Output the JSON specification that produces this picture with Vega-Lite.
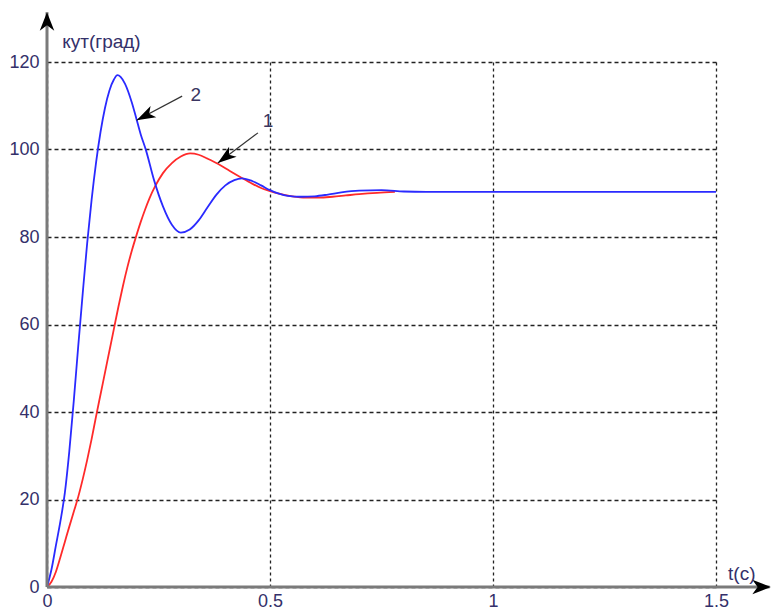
{
  "$schema": "https://vega.github.io/schema/vega-lite/v6.json",
  "width": 669,
  "height": 525,
  "autosize": "none",
  "padding": {"left": 47, "top": 62, "right": 57, "bottom": 26},
  "background": "white",
  "config": {"view": {"stroke": null}, "font": "Liberation Sans"},
  "data": {"values": [{}]},
  "datasets": {
    "curves": [
      {"t":0,"v":0,"curve":"1"},{"t":0.01,"v":1.2,"curve":"1"},{"t":0.02,"v":3.5,"curve":"1"},{"t":0.03,"v":6.8,"curve":"1"},{"t":0.04,"v":10.3,"curve":"1"},{"t":0.05,"v":13.8,"curve":"1"},{"t":0.06,"v":17.2,"curve":"1"},{"t":0.07,"v":20.6,"curve":"1"},{"t":0.08,"v":24.6,"curve":"1"},{"t":0.09,"v":29,"curve":"1"},{"t":0.10,"v":33.8,"curve":"1"},{"t":0.11,"v":39,"curve":"1"},{"t":0.12,"v":44,"curve":"1"},{"t":0.13,"v":49,"curve":"1"},{"t":0.14,"v":54,"curve":"1"},{"t":0.15,"v":59,"curve":"1"},{"t":0.16,"v":64,"curve":"1"},{"t":0.17,"v":68.7,"curve":"1"},{"t":0.18,"v":73,"curve":"1"},{"t":0.19,"v":76.8,"curve":"1"},{"t":0.20,"v":80.2,"curve":"1"},{"t":0.21,"v":83.4,"curve":"1"},{"t":0.22,"v":86.3,"curve":"1"},{"t":0.23,"v":88.9,"curve":"1"},{"t":0.242,"v":91.5,"curve":"1"},{"t":0.26,"v":94.6,"curve":"1"},{"t":0.28,"v":96.9,"curve":"1"},{"t":0.30,"v":98.4,"curve":"1"},{"t":0.321,"v":99.1,"curve":"1"},{"t":0.34,"v":98.8,"curve":"1"},{"t":0.36,"v":97.9,"curve":"1"},{"t":0.384,"v":96.7,"curve":"1"},{"t":0.41,"v":95.1,"curve":"1"},{"t":0.437,"v":93.5,"curve":"1"},{"t":0.46,"v":92.2,"curve":"1"},{"t":0.48,"v":91.2,"curve":"1"},{"t":0.50,"v":90.5,"curve":"1"},{"t":0.52,"v":89.9,"curve":"1"},{"t":0.55,"v":89.3,"curve":"1"},{"t":0.58,"v":89.0,"curve":"1"},{"t":0.61,"v":89.0,"curve":"1"},{"t":0.64,"v":89.2,"curve":"1"},{"t":0.67,"v":89.5,"curve":"1"},{"t":0.70,"v":89.8,"curve":"1"},{"t":0.74,"v":90.1,"curve":"1"},{"t":0.78,"v":90.3,"curve":"1"},
      {"t":0,"v":0,"curve":"2"},{"t":0.01,"v":4,"curve":"2"},{"t":0.02,"v":9.5,"curve":"2"},{"t":0.03,"v":15,"curve":"2"},{"t":0.04,"v":21.5,"curve":"2"},{"t":0.05,"v":31,"curve":"2"},{"t":0.06,"v":42.5,"curve":"2"},{"t":0.07,"v":55,"curve":"2"},{"t":0.08,"v":67,"curve":"2"},{"t":0.09,"v":78.5,"curve":"2"},{"t":0.10,"v":88.5,"curve":"2"},{"t":0.11,"v":97,"curve":"2"},{"t":0.12,"v":104,"curve":"2"},{"t":0.13,"v":109.5,"curve":"2"},{"t":0.14,"v":113.5,"curve":"2"},{"t":0.15,"v":116,"curve":"2"},{"t":0.158,"v":117,"curve":"2"},{"t":0.165,"v":116.6,"curve":"2"},{"t":0.175,"v":115,"curve":"2"},{"t":0.19,"v":110.8,"curve":"2"},{"t":0.20,"v":107.2,"curve":"2"},{"t":0.21,"v":103.5,"curve":"2"},{"t":0.222,"v":99.8,"curve":"2"},{"t":0.24,"v":93,"curve":"2"},{"t":0.26,"v":87,"curve":"2"},{"t":0.28,"v":82.8,"curve":"2"},{"t":0.30,"v":81,"curve":"2"},{"t":0.32,"v":81.7,"curve":"2"},{"t":0.34,"v":83.8,"curve":"2"},{"t":0.36,"v":86.8,"curve":"2"},{"t":0.38,"v":89.7,"curve":"2"},{"t":0.40,"v":91.8,"curve":"2"},{"t":0.42,"v":93,"curve":"2"},{"t":0.437,"v":93.4,"curve":"2"},{"t":0.46,"v":92.8,"curve":"2"},{"t":0.48,"v":91.8,"curve":"2"},{"t":0.50,"v":90.7,"curve":"2"},{"t":0.52,"v":89.9,"curve":"2"},{"t":0.54,"v":89.4,"curve":"2"},{"t":0.57,"v":89.2,"curve":"2"},{"t":0.60,"v":89.3,"curve":"2"},{"t":0.63,"v":89.7,"curve":"2"},{"t":0.66,"v":90.2,"curve":"2"},{"t":0.70,"v":90.6,"curve":"2"},{"t":0.75,"v":90.7,"curve":"2"},{"t":0.80,"v":90.4,"curve":"2"},{"t":0.85,"v":90.3,"curve":"2"},{"t":1.5,"v":90.3,"curve":"2"}
    ],
    "notes": [
      {"label":"2","tx":0.303,"ty":112.2,"hx":0.201,"hy":106.7,"lx":0.322,"ly":112.5},
      {"label":"1","tx":0.473,"ty":103.8,"hx":0.383,"hy":96.9,"lx":0.484,"ly":106.6}
    ]
  },
  "layer": [
    {
      "data": {"name": "curves"},
      "mark": {"type": "line", "strokeWidth": 1.8, "interpolate": "monotone", "clip": false},
      "encoding": {
        "x": {
          "field": "t", "type": "quantitative",
          "scale": {"domain": [0, 1.5], "nice": false, "zero": false},
          "axis": {
            "values": [0, 0.5, 1, 1.5], "format": "~g", "title": null, "domain": false, "ticks": false,
            "labelFont": "Liberation Sans", "labelFontSize": 18, "labelColor": "#34306a", "labelPadding": 5,
            "labelFlush": false, "labelOverlap": false,
            "grid": true, "gridColor": "#222222", "gridDash": [3, 3], "gridWidth": 1.3, "gridOpacity": 1
          }
        },
        "y": {
          "field": "v", "type": "quantitative",
          "scale": {"domain": [0, 120], "nice": false},
          "axis": {
            "values": [0, 20, 40, 60, 80, 100, 120], "title": null, "domain": false, "ticks": false,
            "labelFont": "Liberation Sans", "labelFontSize": 18, "labelColor": "#34306a", "labelPadding": 8,
            "labelFlush": false, "labelOverlap": false,
            "grid": true, "gridColor": "#222222", "gridDash": [4, 3], "gridWidth": 1.3, "gridOpacity": 1
          }
        },
        "color": {
          "field": "curve", "type": "nominal",
          "scale": {"domain": ["1", "2"], "range": ["#ff2a2a", "#2a2aff"]},
          "legend": null
        },
        "order": {"field": "t", "type": "quantitative"}
      }
    },
    {
      "mark": {"type": "rule", "color": "#7a7a7a", "strokeWidth": 3},
      "encoding": {
        "x": {"datum": 0, "type": "quantitative"},
        "y": {"datum": 0, "type": "quantitative"},
        "y2": {"datum": 131.4}
      }
    },
    {
      "mark": {"type": "rule", "color": "#7a7a7a", "strokeWidth": 3},
      "encoding": {
        "y": {"datum": 0, "type": "quantitative"},
        "x": {"datum": 0, "type": "quantitative"},
        "x2": {"datum": 1.62}
      }
    },
    {
      "mark": {"type": "point", "shape": "M0,0L-0.55,1.4L0,1.0L0.55,1.4Z", "size": 700, "filled": true, "color": "black", "opacity": 1, "angle": 0},
      "encoding": {
        "x": {"datum": 0, "type": "quantitative"},
        "y": {"datum": 131.4, "type": "quantitative"}
      }
    },
    {
      "mark": {"type": "point", "shape": "M0,0L-0.55,1.4L0,1.0L0.55,1.4Z", "size": 700, "filled": true, "color": "black", "opacity": 1, "angle": 90},
      "encoding": {
        "x": {"datum": 1.623, "type": "quantitative"},
        "y": {"datum": 0, "type": "quantitative"}
      }
    },
    {
      "data": {"name": "notes"},
      "mark": {"type": "rule", "color": "#333333", "strokeWidth": 1.2},
      "encoding": {
        "x": {"field": "tx", "type": "quantitative"},
        "y": {"field": "ty", "type": "quantitative"},
        "x2": {"field": "hx"},
        "y2": {"field": "hy"}
      }
    },
    {
      "data": {"name": "notes"},
      "transform": [{"filter": "datum.label == '2'"}],
      "mark": {"type": "point", "shape": "M0,0L-0.45,1.35L0,1.0L0.45,1.35Z", "size": 780, "filled": true, "color": "black", "opacity": 1, "angle": 243},
      "encoding": {
        "x": {"field": "hx", "type": "quantitative"},
        "y": {"field": "hy", "type": "quantitative"}
      }
    },
    {
      "data": {"name": "notes"},
      "transform": [{"filter": "datum.label == '1'"}],
      "mark": {"type": "point", "shape": "M0,0L-0.45,1.35L0,1.0L0.45,1.35Z", "size": 780, "filled": true, "color": "black", "opacity": 1, "angle": 233},
      "encoding": {
        "x": {"field": "hx", "type": "quantitative"},
        "y": {"field": "hy", "type": "quantitative"}
      }
    },
    {
      "data": {"name": "notes"},
      "mark": {"type": "text", "font": "Liberation Sans", "fontSize": 19, "color": "#3a3560", "align": "left", "baseline": "middle"},
      "encoding": {
        "x": {"field": "lx", "type": "quantitative"},
        "y": {"field": "ly", "type": "quantitative"},
        "text": {"field": "label"}
      }
    },
    {
      "mark": {"type": "text", "text": "кут(град)", "font": "Liberation Sans", "fontSize": 19, "color": "#34306a", "align": "left", "baseline": "middle"},
      "encoding": {
        "x": {"datum": 0.034, "type": "quantitative"},
        "y": {"datum": 124.6, "type": "quantitative"}
      }
    },
    {
      "mark": {"type": "text", "text": "t(c)", "font": "Liberation Sans", "fontSize": 19, "color": "#34306a", "align": "left", "baseline": "middle"},
      "encoding": {
        "x": {"datum": 1.527, "type": "quantitative"},
        "y": {"datum": 3.0, "type": "quantitative"}
      }
    }
  ]
}
